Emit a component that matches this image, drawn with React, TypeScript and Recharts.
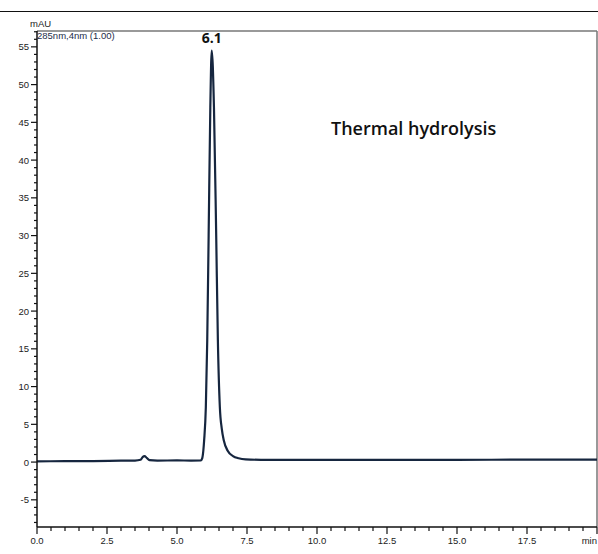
import { Line, LineChart, ReferenceDot, ReferenceLine, XAxis, YAxis } from "recharts";

// retention time (min) and detector signal (mAU)
const TIME_MIN = [
  0, 1, 2, 3, 3.5, 3.7, 3.78, 3.84, 3.92, 4.02, 4.3, 5, 5.5, 5.85, 5.9, 5.94, 5.97,
  6.03, 6.08, 6.13, 6.19, 6.24, 6.32, 6.4, 6.46, 6.53, 6.6, 6.67, 6.81, 7.0, 7.2,
  7.45, 8, 10, 12.5, 15, 17.5, 20,
];
const SIGNAL_MAU = [
  0.1, 0.12, 0.13, 0.18, 0.2, 0.3, 0.7, 0.8, 0.55, 0.25, 0.2, 0.22, 0.2, 0.22, 0.5,
  1.5, 2.9, 7.3, 16.1, 30, 47, 54.5, 47, 30, 16.1, 7.3, 4.4, 2.9, 1.5, 0.8, 0.5,
  0.35, 0.3, 0.28, 0.28, 0.3, 0.32, 0.33,
];

const X_DOMAIN: [number, number] = [0, 20];
const Y_DOMAIN: [number, number] = [-8.6, 57.1];
const X_MAJOR_TICKS = [0, 2.5, 5, 7.5, 10, 12.5, 15, 17.5, 20];
const X_TICK_LABELS = ["0.0", "2.5", "5.0", "7.5", "10.0", "12.5", "15.0", "17.5", "min"];
const Y_MAJOR_TICKS = [-5, 0, 5, 10, 15, 20, 25, 30, 35, 40, 45, 50, 55];

const PEAK_TIME = 6.24;
const PEAK_HEIGHT = 54.5;
const PEAK_LABEL = "6.1";

const X_MINOR = Array.from({ length: 41 }, (_, i) => i * 0.5);
const Y_MINOR = Array.from({ length: 66 }, (_, i) => i - 8);

const TICK_FONT = "'Liberation Sans', Arial, sans-serif";
const LINE_COLOR = "#16263f";

interface TickProps {
  x: number;
  y: number;
  payload: { value: number };
}

function XTick({ x, y, payload }: TickProps) {
  const idx = X_MAJOR_TICKS.indexOf(payload.value);
  const major = idx >= 0;
  return (
    <g>
      <line x1={x} x2={x} y1={y} y2={y + (major ? 7 : 4)} stroke="#111" strokeWidth={1.2} />
      {major && (
        <text
          x={x}
          y={y + 17}
          textAnchor={payload.value === 20 ? "end" : "middle"}
          fontFamily={TICK_FONT}
          fontSize={9.5}
          fill="#222"
        >
          {X_TICK_LABELS[idx]}
        </text>
      )}
    </g>
  );
}

function YTick({ x, y, payload }: TickProps) {
  const major = Y_MAJOR_TICKS.includes(payload.value);
  return (
    <g>
      <line x1={x} x2={x - (major ? 6 : 3)} y1={y} y2={y} stroke="#111" strokeWidth={1.2} />
      {major && (
        <text
          x={x - 8}
          y={y + 3.5}
          textAnchor="end"
          fontFamily={TICK_FONT}
          fontSize={9.5}
          fill="#222"
        >
          {payload.value}
        </text>
      )}
    </g>
  );
}

export default function App() {
  const data = TIME_MIN.map((t, i) => ({ t, mau: SIGNAL_MAU[i] }));

  return (
    <div style={{ position: "relative", width: 598, height: 554, background: "#fff" }}>
      <style>{"body{margin:0}"}</style>
      <div
        style={{
          position: "absolute",
          left: 0,
          top: 11,
          width: 598,
          borderTop: "1.5px solid #111",
        }}
      />
      <LineChart
        width={598}
        height={554}
        data={data}
        margin={{ top: 31, right: 1, bottom: 0, left: 0 }}
      >
        <XAxis
          dataKey="t"
          type="number"
          domain={X_DOMAIN}
          ticks={X_MINOR}
          interval={0}
          allowDataOverflow
          height={27}
          tickSize={0}
          tickMargin={0}
          tickLine={false}
          axisLine={{ stroke: "#111", strokeWidth: 1.5 }}
          tick={(p: TickProps) => <XTick {...p} />}
        />
        <YAxis
          type="number"
          domain={Y_DOMAIN}
          ticks={Y_MINOR}
          interval={0}
          allowDataOverflow
          width={37}
          tickSize={0}
          tickMargin={0}
          tickLine={false}
          axisLine={{ stroke: "#111", strokeWidth: 1.5 }}
          tick={(p: TickProps) => <YTick {...p} />}
        />
        <ReferenceLine y={Y_DOMAIN[1]} stroke="#777" strokeWidth={1.5} ifOverflow="visible" />
        <ReferenceLine x={X_DOMAIN[1]} stroke="#777" strokeWidth={1.5} ifOverflow="visible" />
        <Line
          type="monotone"
          dataKey="mau"
          stroke={LINE_COLOR}
          strokeWidth={2.2}
          dot={false}
          isAnimationActive={false}
        />
        <ReferenceDot
          x={PEAK_TIME}
          y={PEAK_HEIGHT}
          r={0}
          ifOverflow="visible"
          label={{
            value: PEAK_LABEL,
            position: "top",
            offset: 8,
            fontFamily: "'Open Sans', sans-serif",
            fontWeight: 700,
            fontSize: 14,
            fill: "#111",
          }}
        />
      </LineChart>
      <div
        style={{
          position: "absolute",
          left: 30,
          top: 19,
          fontFamily: TICK_FONT,
          fontSize: 9.5,
          lineHeight: 1,
          color: "#222",
        }}
      >
        mAU
      </div>
      <div
        style={{
          position: "absolute",
          left: 37,
          top: 31,
          fontFamily: TICK_FONT,
          fontSize: 9.5,
          lineHeight: 1,
          color: "#1d2d4a",
        }}
      >
        285nm,4nm (1.00)
      </div>
      <div
        style={{
          position: "absolute",
          left: 331,
          top: 118,
          fontFamily: "'Open Sans', sans-serif",
          fontSize: 18,
          fontWeight: 600,
          lineHeight: 1.2,
          color: "#111",
        }}
      >
        Thermal hydrolysis
      </div>
    </div>
  );
}
